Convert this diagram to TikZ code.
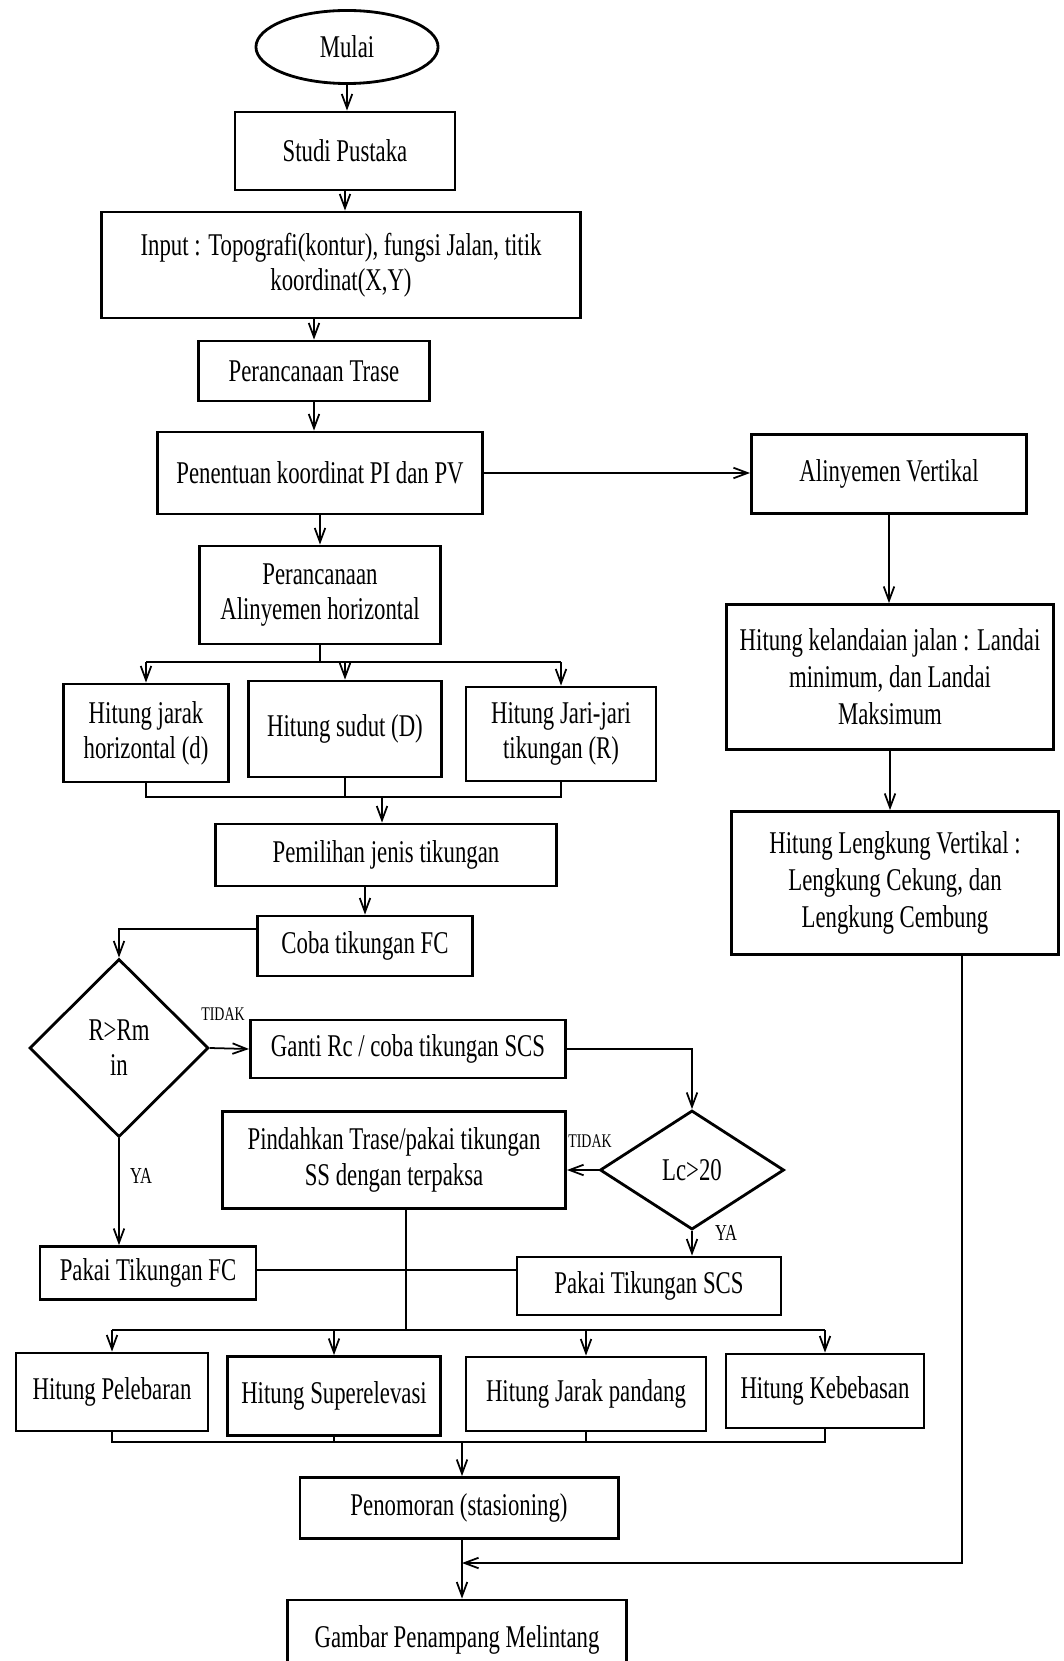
\documentclass[tikz,border=0pt]{standalone}
\usepackage{fontspec}
\setmainfont{Liberation Serif}[FakeStretch=0.72]
\usetikzlibrary{shapes.geometric, arrows.meta, positioning}

\begin{document}
\begin{tikzpicture}[x=0.01cm, y=-0.01cm,
  box/.style={draw, line width=0.8pt, align=center, inner sep=2pt, font=\fontsize{9}{10}\selectfont},
  startstop/.style={box, ellipse},
  decision/.style={box, diamond, aspect=1, inner sep=0pt},
  arrow/.style={-{Straight Barb[length=4pt,width=3pt]}, line width=0.5pt},
  line/.style={line width=0.5pt},
  tag/.style={font=\fontsize{5.5}{6}\selectfont, inner sep=0pt}]

  % page
  \useasboundingbox (0,0) rectangle (1064,1661);
  \fill[white] (0,0) rectangle (1064,1661);

  % Main column
  \node[startstop, minimum width=1.82cm, minimum height=0.73cm] (mulai) at (347,47) {Mulai};
  \node[box, minimum width=2.20cm, minimum height=0.78cm] (studi) at (345,151) {Studi Pustaka};
  \node[box, minimum width=4.78cm, minimum height=1.06cm] (input) at (341,265) {Input : Topografi(kontur), fungsi Jalan, titik\\koordinat(X,Y)};
  \node[box, minimum width=2.31cm, minimum height=0.60cm] (trase) at (314,371) {Perancanaan Trase};
  \node[box, minimum width=3.25cm, minimum height=0.82cm] (penentuan) at (320,473) {Penentuan koordinat PI dan PV};
  \node[box, minimum width=2.41cm, minimum height=0.98cm] (horizontal) at (320,595) {Perancanaan\\Alinyemen horizontal};

  % Horizontal alignment
  \node[box, minimum width=1.65cm, minimum height=0.98cm] (jarak) at (146,733) {Hitung jarak\\horizontal (d)};
  \node[box, minimum width=1.93cm, minimum height=0.96cm] (sudut) at (345,729) {Hitung sudut (D)};
  \node[box, minimum width=1.90cm, minimum height=0.94cm] (jari) at (561,734) {Hitung Jari-jari\\tikungan (R)};
  \node[box, minimum width=3.41cm, minimum height=0.62cm] (pemilihan) at (386,855) {Pemilihan jenis tikungan};
  \node[box, minimum width=2.15cm, minimum height=0.60cm] (cobafc) at (365,946) {Coba tikungan FC};
  \node[decision, minimum width=1.79cm, minimum height=1.78cm] (rmin) at (119,1048) {R>Rm\\in};
  \node[box, minimum width=3.15cm, minimum height=0.58cm] (ganti) at (408,1049) {Ganti Rc / coba tikungan SCS};
  \node[decision, minimum width=1.84cm, minimum height=1.19cm] (lc) at (692,1170) {Lc>20};
  \node[box, minimum width=3.43cm, minimum height=0.97cm] (pindah) at (394,1160) {Pindahkan Trase/pakai tikungan\\SS dengan terpaksa};
  \node[box, minimum width=2.16cm, minimum height=0.53cm] (pakaifc) at (148,1273) {Pakai Tikungan FC};
  \node[box, minimum width=2.64cm, minimum height=0.58cm] (pakaiscs) at (649,1286) {Pakai Tikungan SCS};

  % Calculations
  \node[box, minimum width=1.92cm, minimum height=0.78cm] (pelebaran) at (112,1392) {Hitung Pelebaran};
  \node[box, minimum width=2.13cm, minimum height=0.79cm] (elevasi) at (334,1396) {Hitung Superelevasi};
  \node[box, minimum width=2.40cm, minimum height=0.74cm] (pandang) at (586,1394) {Hitung Jarak pandang};
  \node[box, minimum width=1.98cm, minimum height=0.74cm] (bebas) at (825,1391) {Hitung Kebebasan};
  \node[box, minimum width=3.18cm, minimum height=0.61cm] (nomor) at (459,1508) {Penomoran (stasioning)};
  \node[box, minimum width=3.39cm, minimum height=0.80cm] (gambar) at (457,1640) {Gambar Penampang Melintang};

  % Vertical alignment
  \node[box, minimum width=2.75cm, minimum height=0.79cm] (vertikal) at (889,474) {Alinyemen Vertikal};
  \node[box, minimum width=3.27cm, minimum height=1.45cm, font=\fontsize{9}{10.5}\selectfont] (landai) at (890,677) {Hitung kelandaian jalan : Landai\\minimum, dan Landai\\Maksimum};
  \node[box, minimum width=3.27cm, minimum height=1.43cm, font=\fontsize{9}{10.5}\selectfont] (lengkung) at (895,883) {Hitung Lengkung Vertikal :\\Lengkung Cekung, dan\\Lengkung Cembung};

  % Labels
  \node[tag] (tidak1) at (223,1014) {TIDAK};
  \node[tag] (tidak2) at (590,1141) {TIDAK};
  \node[tag, font=\fontsize{6.5}{7}\selectfont] (ya1) at (141,1176) {YA};
  \node[tag, font=\fontsize{6.5}{7}\selectfont] (ya2) at (726,1233) {YA};

  % Connectors, main column
  \draw[arrow] (mulai.south) -- (mulai.south |- studi.north);
  \draw[arrow] (studi.south) -- (studi.south |- input.north);
  \draw[arrow] (input.south -| trase) -- (trase.north);
  \draw[arrow] (trase.south) -- (trase.south |- penentuan.north);
  \draw[arrow] (penentuan.east) -- (penentuan.east -| vertikal.west);
  \draw[arrow] (penentuan.south) -- (horizontal.north);

  % split into three
  \coordinate (split) at (320,662);
  \draw[line] (horizontal.south) -- (split);
  \draw[line] (split -| jarak) -- (split -| jari);
  \foreach \n in {jarak, sudut, jari}
    \draw[arrow] (split -| \n) -- (\n.north);

  % join three
  \coordinate (join) at (382,797);
  \draw[line] (jarak.south) -- (jarak.south |- join) -- (jari.south |- join) -- (jari.south);
  \draw[line] (sudut.south) -- (sudut.south |- join);
  \draw[arrow] (join) -- (join |- pemilihan.north);
  \draw[arrow] (pemilihan.south -| cobafc) -- (cobafc.north);

  % bends
  \draw[arrow] ([yshift=0.17cm]cobafc.west) -| (rmin.north);
  \draw[arrow] (rmin.east) -- (ganti.west);
  \draw[arrow] (ganti.east) -| (lc.north);
  \draw[arrow] (lc.west) -- (lc.west -| pindah.east);
  \draw[arrow] (lc.south) -- (lc.south |- pakaiscs.north);
  \draw[arrow] (rmin.south) -- (rmin.south |- pakaifc.north);
  \draw[line] ([yshift=0.03cm]pakaifc.east) -- ([yshift=0.03cm]pakaifc.east -| pakaiscs.west);

  % split into four
  \coordinate (split2) at (406,1330);
  \draw[line] (pindah.south -| split2) -- (split2);
  \draw[line] (split2 -| pelebaran) -- (split2 -| bebas);
  \foreach \n in {pelebaran, elevasi, pandang, bebas}
    \draw[arrow] (split2 -| \n) -- (\n.north);

  % join four
  \coordinate (join2) at (462,1442);
  \draw[line] (pelebaran.south) -- (pelebaran.south |- join2) -- (bebas.south |- join2) -- (bebas.south);
  \foreach \n in {elevasi, pandang}
    \draw[line] (\n.south) -- (\n.south |- join2);
  \draw[arrow] (join2) -- (join2 |- nomor.north);
  \draw[arrow] (nomor.south -| join2) -- (join2 |- gambar.north);

  % vertical branch
  \coordinate (back) at (462,1563);
  \draw[arrow] (vertikal.south) -- (vertikal.south |- landai.north);
  \draw[arrow] (landai.south) -- (landai.south |- lengkung.north);
  \draw[arrow] ([xshift=0.67cm]lengkung.south) |- (back);

\end{tikzpicture}
\end{document}
